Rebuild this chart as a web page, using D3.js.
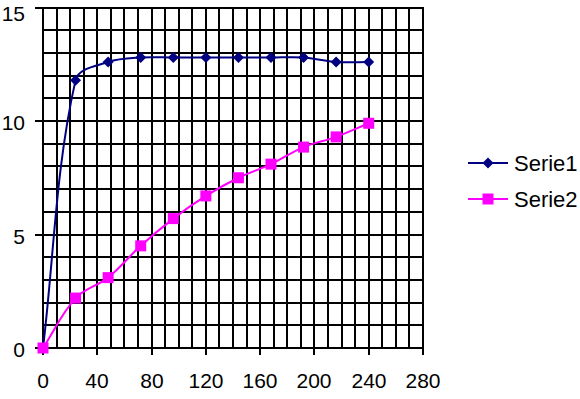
<!DOCTYPE html>
<html>
<head>
<meta charset="utf-8">
<script src="https://cdn.jsdelivr.net/npm/d3@7/dist/d3.min.js"></script>
<style>
html,body{margin:0;padding:0;background:#fff;}
svg{display:block;}
text{font-family:"Liberation Sans",Arial,sans-serif;fill:#000;}
</style>
</head>
<body>
<svg id="chart" width="580" height="399"></svg>
<script>
const xValues = [0, 24, 48, 72, 96, 120, 144, 168, 192, 216, 240];
const serie1 = [0, 11.8, 12.6, 12.8, 12.8, 12.8, 12.8, 12.8, 12.8, 12.6, 12.6];
const serie2 = [0, 2.2, 3.1, 4.5, 5.7, 6.7, 7.5, 8.1, 8.85, 9.3, 9.9];
const seriesNames = ["Serie1", "Serie2"];
const xTicks = [0, 40, 80, 120, 160, 200, 240, 280];
const yTicks = [0, 5, 10, 15];
const xGrid = d3.range(0, 281, 10);
const yGrid = d3.range(0, 16, 1);

const svg = d3.select("#chart");
const x = d3.scaleLinear().domain([0, 280]).range([43, 423]);
const y = d3.scaleLinear().domain([0, 15]).range([348, 7.5]);
const rx = d => Math.round(x(d));
const ry = d => Math.round(y(d));

// grid
const g = svg.append("g");
g.selectAll("line.v").data(xGrid).enter().append("line")
  .attr("x1", rx).attr("x2", rx)
  .attr("y1", ry(15) - 1).attr("y2", ry(0) + 1)
  .attr("stroke", "#000").attr("stroke-width", 2);
g.selectAll("line.h").data(yGrid).enter().append("line")
  .attr("x1", rx(0) - 1).attr("x2", rx(280) + 1)
  .attr("y1", ry).attr("y2", ry)
  .attr("stroke", "#000").attr("stroke-width", 2);

// axes
const xAxis = d3.axisBottom(x).tickValues(xTicks).tickSize(7).tickPadding(18);
const yAxis = d3.axisLeft(y).tickValues(yTicks).tickSize(8).tickPadding(10);
const gx = svg.append("g").attr("transform", `translate(0,${ry(0)})`).call(xAxis);
const gy = svg.append("g").attr("transform", `translate(${rx(0)},0)`).call(yAxis);
[gx, gy].forEach(a => {
  a.select(".domain").remove();
  a.selectAll(".tick line").attr("stroke", "#000").attr("stroke-width", 2);
  a.selectAll(".tick text").style("font-family", '"Liberation Sans",Arial,sans-serif').style("font-size", "21px").attr("fill", "#000");
});
gx.selectAll(".tick").attr("transform", d => `translate(${rx(d)},0)`);
gy.selectAll(".tick").attr("transform", d => `translate(0,${ry(d)})`);
gy.selectAll(".tick text").attr("dy", "0.42em");
gy.selectAll(".tick text").filter(d => d === 15).attr("dy", "0.6em");

const colors = ["#000080", "#FF00FF"];
const data = [serie1, serie2];

// Excel-style smoothed line: tangent along neighbour chord, length = segment/3
function smoothPath(P) {
  const p = d3.path();
  const unit = (a, b) => { const dx = b[0]-a[0], dy = b[1]-a[1], l = Math.hypot(dx, dy) || 1; return [dx/l, dy/l]; };
  const tan = i => {
    if (i === 0) return unit(P[0], P[1]);
    if (i === P.length - 1) return unit(P[i-1], P[i]);
    return unit(P[i-1], P[i+1]);
  };
  p.moveTo(P[0][0], P[0][1]);
  for (let i = 0; i < P.length - 1; i++) {
    const a = P[i], b = P[i+1];
    const L = Math.hypot(b[0]-a[0], b[1]-a[1]) / 3;
    const ta = tan(i), tb = tan(i+1);
    p.bezierCurveTo(a[0] + ta[0]*L, a[1] + ta[1]*L, b[0] - tb[0]*L, b[1] - tb[1]*L, b[0], b[1]);
  }
  return p.toString();
}

function marker(sel, i, cx, cy) {
  if (i === 0) {
    sel.append("path").attr("d", `M${cx},${cy-5.5}L${cx+5.5},${cy}L${cx},${cy+5.5}L${cx-5.5},${cy}Z`)
      .attr("fill", colors[0]);
  } else {
    sel.append("rect").attr("x", cx - 5.5).attr("y", cy - 5.5).attr("width", 11).attr("height", 11)
      .attr("fill", colors[1]);
  }
}

data.forEach((vals, i) => {
  const pts = xValues.map((xv, k) => [x(xv), y(vals[k])]);
  svg.append("path").attr("d", smoothPath(pts)).attr("fill", "none")
    .attr("stroke", colors[i]).attr("stroke-width", 2);
  const mg = svg.append("g");
  pts.forEach(p => marker(mg, i, p[0], p[1]));
});

// legend
const legY = [163, 199];
seriesNames.forEach((name, i) => {
  const lg = svg.append("g");
  lg.append("line").attr("x1", 468).attr("x2", 508).attr("y1", legY[i]).attr("y2", legY[i])
    .attr("stroke", colors[i]).attr("stroke-width", 2);
  marker(lg, i, 488, legY[i]);
  lg.append("text").attr("x", 514).attr("y", legY[i]).attr("dy", "0.36em")
    .style("font-size", "22px").text(name);
});
</script>
</body>
</html>
